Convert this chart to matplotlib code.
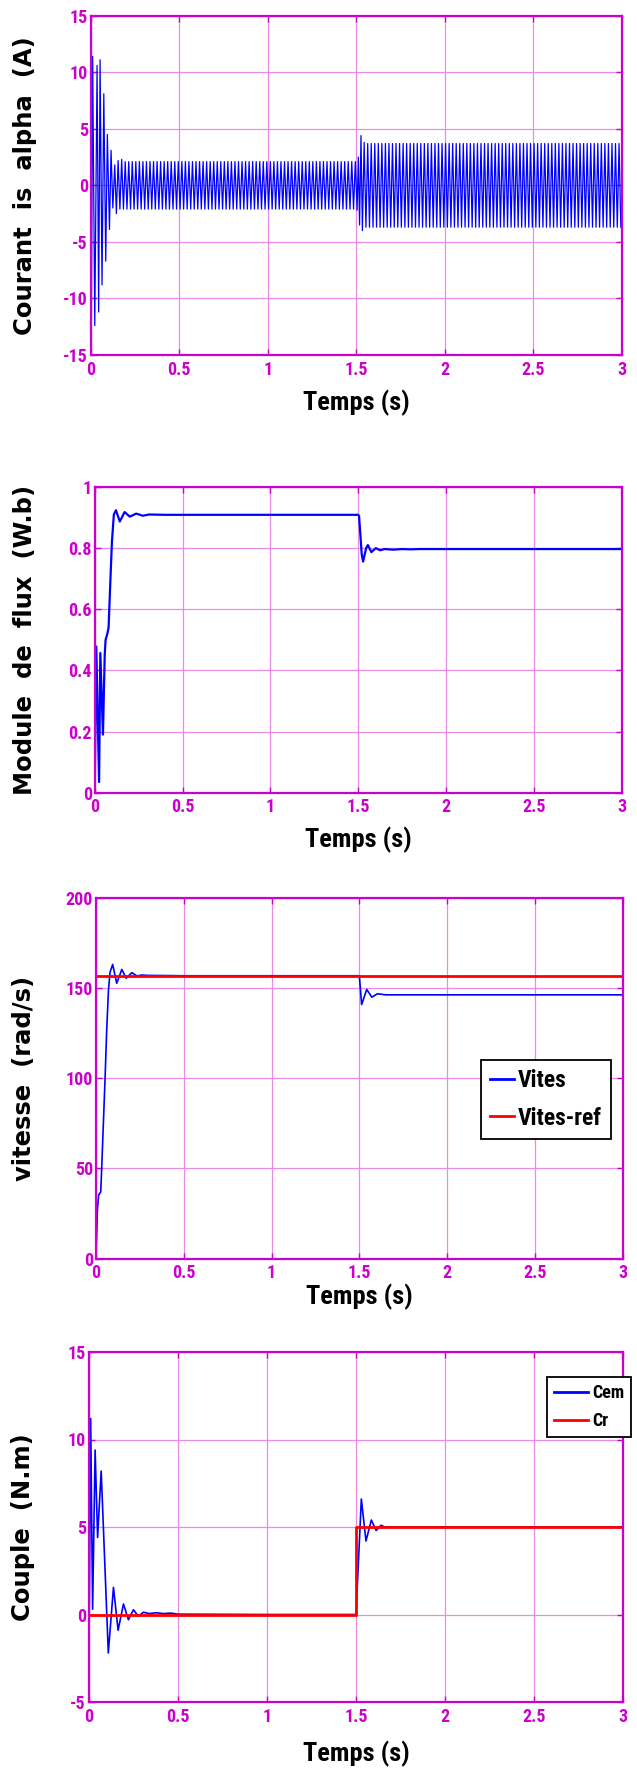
import numpy as np
import matplotlib
matplotlib.use("Agg")
import matplotlib.pyplot as plt
from matplotlib import font_manager as fm

# ---------------------------------------------------------------- data
# time axis ticks shared by the four panels
x_ticks = [0, 0.5, 1, 1.5, 2, 2.5, 3]
x_tick_labels = ["0", "0.5", "1", "1.5", "2", "2.5", "3"]

# stator current (alpha axis): start-up extrema (s, A)
ia_start_t = [0.0, 0.004, 0.011, 0.023, 0.036, 0.045, 0.053, 0.064, 0.074, 0.085,
              0.094, 0.106, 0.115, 0.125, 0.136, 0.145, 0.155, 0.165, 0.175, 0.185]
ia_start_v = [0.0, -11.5, 11.4, -12.4, 10.6, -11.2, 11.1, -8.8, 8.1, -6.7,
              4.5, -3.9, 3.1, -2.0, 1.8, -2.5, 2.2, -2.1, 2.3, -2.1]
# extrema around the load step at 1.5 s
ia_step_t = [1.505, 1.512, 1.519, 1.527, 1.535, 1.545, 1.555]
ia_step_v = [-2.2, 2.5, -3.5, 4.4, -4.0, 3.8, -3.7]
# steady peak amplitudes before / after the load step, supply frequency
ia_amp_noload = 2.1
ia_amp_load = 3.7
f_supply = 50.0

yt_ia = [-15, -10, -5, 0, 5, 10, 15]

# rotor flux magnitude (Wb)
flux_t = [0.0, 0.009, 0.025, 0.032, 0.047, 0.057, 0.062, 0.072, 0.079, 0.089, 0.098,
          0.109, 0.121, 0.143, 0.170, 0.200, 0.236, 0.274, 0.310, 0.400, 1.000, 1.500,
          1.505, 1.520, 1.528, 1.545, 1.555, 1.575, 1.600, 1.625, 1.650, 1.700, 1.750,
          1.800, 1.850, 3.000]
flux_v = [0.0, 0.478, 0.035, 0.457, 0.19, 0.45, 0.50, 0.52, 0.54, 0.69, 0.82,
          0.91, 0.924, 0.887, 0.918, 0.903, 0.913, 0.906, 0.910, 0.909, 0.909, 0.909,
          0.905, 0.78, 0.756, 0.80, 0.81, 0.787, 0.80, 0.793, 0.797, 0.795, 0.797,
          0.796, 0.797, 0.797]
yt_flux = [0, 0.2, 0.4, 0.6, 0.8, 1]
yt_flux_labels = ["0", "0.2", "0.4", "0.6", "0.8", "1"]

# rotor speed and its reference (rad/s)
speed_t = [0.0, 0.008, 0.015, 0.027, 0.032, 0.042, 0.052, 0.061, 0.071, 0.080,
           0.095, 0.118, 0.147, 0.172, 0.204, 0.233, 0.260, 0.290, 0.500, 1.000,
           1.500, 1.513, 1.542, 1.571, 1.603, 1.650, 3.000]
speed_v = [0.0, 26.9, 35.2, 37.0, 49.0, 75.0, 101.0, 127.0, 149.0, 159.0,
           163.3, 152.8, 160.5, 155.6, 158.7, 156.9, 157.4, 157.2, 157.0, 157.0,
           157.0, 141.0, 149.4, 145.1, 147.0, 146.4, 146.4]
speed_ref_t = [0.0, 3.0]
speed_ref_v = [157.0, 157.0]
yt_speed = [0, 50, 100, 150, 200]

# electromagnetic torque and load torque (N.m)
cem_t = [0.0, 0.003, 0.011, 0.022, 0.036, 0.050, 0.070, 0.110, 0.139, 0.165,
         0.195, 0.223, 0.251, 0.279, 0.307, 0.340, 0.380, 0.420, 0.460, 0.500,
         1.000, 1.500, 1.515, 1.530, 1.556, 1.586, 1.613, 1.641, 1.660, 3.000]
cem_v = [0.0, -0.4, 11.2, 0.3, 9.4, 4.4, 8.2, -2.2, 1.55, -0.9,
         0.6, -0.3, 0.27, -0.1, 0.13, 0.05, 0.1, 0.05, 0.08, 0.02,
         0.0, 0.0, 3.3, 6.6, 4.2, 5.4, 4.8, 5.1, 5.0, 5.0]
cr_t = [0.0, 1.5, 1.5, 3.0]
cr_v = [0.0, 0.0, 5.0, 5.0]
yt_torque = [-5, 0, 5, 10, 15]

# ---------------------------------------------------------------- current waveform
# half-period spaced extrema of the 50 Hz current in both steady regimes
half = 0.5 / f_supply
t_a = np.arange(ia_start_t[-1] + half, 1.5, half)
v_a = ia_amp_noload * np.where(np.arange(len(t_a)) % 2 == 0, 1.0, -1.0)
t_b = np.arange(ia_step_t[-1] + half, 3.0 + 1e-9, half)
v_b = ia_amp_load * np.where(np.arange(len(t_b)) % 2 == 0, 1.0, -1.0)
ia_t = np.concatenate([ia_start_t, t_a, ia_step_t, t_b])
ia_v = np.concatenate([ia_start_v, v_a, ia_step_v, v_b])

# ---------------------------------------------------------------- style
MAGENTA = "#CC00CC"
GRID = "#E98BE9"
BLUE = "#0000FF"
RED = "#FF0000"

names = {f.name for f in fm.fontManager.ttflist}
narrow_family = next((n for n in ["Liberation Sans Narrow", "Arial Narrow",
                                  "Roboto Condensed", "Open Sans Condensed"]
                      if n in names), None)
dejavu_cond = any(f.name == "DejaVu Sans" and f.stretch == "condensed"
                  for f in fm.fontManager.ttflist)


def narrow(size):
    if narrow_family:
        return fm.FontProperties(family=narrow_family, weight="bold", size=size)
    if dejavu_cond:
        return fm.FontProperties(family="DejaVu Sans", stretch="condensed",
                                 weight="bold", size=size)
    return fm.FontProperties(family="Liberation Sans", weight="bold", size=size)


label_font = fm.FontProperties(family="DejaVu Sans", weight="bold", size=17.5)

W, H = 637, 1773
fig = plt.figure(figsize=(W / 100, H / 100), dpi=100)


def make_axes(left, right, top, bottom):
    return fig.add_axes([left / W, (H - bottom) / H, (right - left) / W, (bottom - top) / H])


def style(ax, yticks, ylim, ylabels, ylabel, ylab_x, xlab_off, box):
    left, right, top, bottom = box
    ax.set_xlim(0, 3)
    ax.set_ylim(*ylim)
    ax.set_xticks(x_ticks)
    ax.set_xticklabels(x_tick_labels)
    ax.set_yticks(yticks)
    ax.set_yticklabels(ylabels)
    ax.grid(True, color=GRID, linewidth=0.9, linestyle="-")
    ax.set_axisbelow(True)
    for s in ax.spines.values():
        s.set_color(MAGENTA)
        s.set_linewidth(1.6)
    ax.tick_params(direction="in", length=4, width=1, color=MAGENTA,
                   top=True, right=True)
    ax.tick_params(axis="y", pad=2)
    ax.tick_params(axis="x", pad=4)
    for lab in ax.get_xticklabels() + ax.get_yticklabels():
        lab.set_fontproperties(narrow(13))
        lab.set_color(MAGENTA)
    ax.set_xlabel("Temps (s)", fontproperties=narrow(19), color="black")
    ax.xaxis.label.set_va("center")
    ax.xaxis.set_label_coords(0.5, -xlab_off / (bottom - top))
    ax.set_ylabel(ylabel, fontproperties=label_font, color="black")
    ax.yaxis.label.set_va("center")
    ax.yaxis.set_label_coords((ylab_x - left) / (right - left), 0.5)


# current
box1 = (90.7, 621.7, 15.7, 355.0)
ax1 = make_axes(*box1)
ax1.plot(ia_t, ia_v, color=BLUE, linewidth=0.9)
style(ax1, yt_ia, (-15, 15), [str(v) for v in yt_ia],
      "Courant  is  alpha  (A)", 25.0, 48.0, box1)

# flux
box2 = (94.7, 621.7, 487.0, 792.7)
ax2 = make_axes(*box2)
ax2.plot(flux_t, flux_v, color=BLUE, linewidth=1.6)
style(ax2, yt_flux, (0, 1), yt_flux_labels,
      "Module  de  flux  (W.b)", 25.5, 47.0, box2)

# speed
box3 = (96.0, 622.7, 898.3, 1258.5)
ax3 = make_axes(*box3)
ax3.plot(speed_t, speed_v, color=BLUE, linewidth=1.2, label="Vites")
ax3.plot(speed_ref_t, speed_ref_v, color=RED, linewidth=2.0, label="Vites-ref")
style(ax3, yt_speed, (0, 200), [str(v) for v in yt_speed],
      "vitesse  (rad/s)", 24.5, 38.0, box3)
leg3 = ax3.legend(loc="upper left", bbox_to_anchor=(0.7304, 0.551), borderaxespad=0,
                  prop=narrow(17), frameon=True, fancybox=False, framealpha=1,
                  edgecolor="black", handlelength=1.0, handletextpad=0.15,
                  labelspacing=0.6, borderpad=0.4)
leg3.get_frame().set_linewidth(1.3)
for h in leg3.get_lines():
    h.set_linewidth(2.0)

# torque
box4 = (88.7, 623.3, 1352.0, 1702.0)
ax4 = make_axes(*box4)
ax4.plot(cem_t, cem_v, color=BLUE, linewidth=1.2, label="Cem")
ax4.plot(cr_t, cr_v, color=RED, linewidth=2.0, label="Cr")
style(ax4, yt_torque, (-5, 15), [str(v) for v in yt_torque],
      "Couple  (N.m)", 23.5, 52.0, box4)
leg4 = ax4.legend(loc="upper left", bbox_to_anchor=(0.8567, 0.9294), borderaxespad=0,
                  prop=narrow(13), frameon=True, fancybox=False, framealpha=1,
                  edgecolor="black", handlelength=1.9, handletextpad=0.2,
                  labelspacing=0.55, borderpad=0.4)
leg4.get_frame().set_linewidth(1.3)
for h in leg4.get_lines():
    h.set_linewidth(2.0)

fig.savefig("out.png", dpi=100)
